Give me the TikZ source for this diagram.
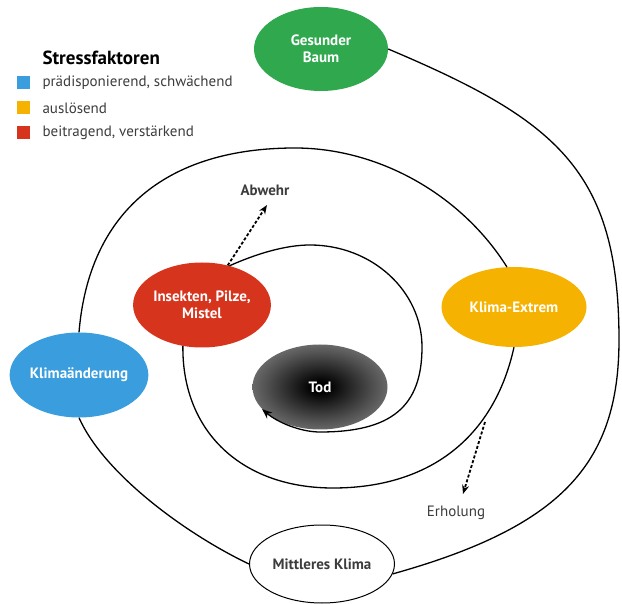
\documentclass[tikz,border=0pt]{standalone}
\usepackage{fontspec}
\setmainfont{PT Sans}
\usetikzlibrary{shapes.geometric,arrows.meta}

\definecolor{baumgruen}{RGB}{48,168,78}
\definecolor{klimablau}{RGB}{58,158,222}
\definecolor{extremgelb}{RGB}{246,178,0}
\definecolor{insektrot}{RGB}{214,52,28}
\definecolor{textgrau}{RGB}{60,60,60}

\pgfdeclareradialshading{todschatten}{\pgfpoint{0bp}{0bp}}{%
  color(0bp)=(black); color(3bp)=(black); color(20bp)=(black!68); color(35bp)=(black!42); color(50bp)=(black!40)}

\begin{document}
\begin{tikzpicture}[x=1pt,y=-1pt,
  oval/.style={ellipse, minimum width=135pt, minimum height=85pt, inner sep=0pt,
    align=center, text=white, font=\bfseries\fontsize{15}{17}\selectfont},
  spirale/.style={line width=1.3pt},
  pfeil/.style={line width=1.8pt, dash pattern=on 3pt off 2pt,
    -{Stealth[length=9pt,width=7pt]}}]
  \useasboundingbox (0,0) rectangle (622,604);

  % --- legend ---
  \node[anchor=west, font=\bfseries\fontsize{19}{21}\selectfont] (titel) at (39,58) {Stressfaktoren};
  \foreach \i/\yy/\farbe/\txt in {1/83/klimablau/{prädisponierend, schwächend},
      2/108/extremgelb/{auslösend}, 3/133/insektrot/{beitragend, verstärkend}} {
    \fill[\farbe] (17,\yy-6.5) rectangle (30,\yy+6.5);
    \node[anchor=west, text=textgrau, font=\fontsize{15}{17}\selectfont] (leg\i) at (39,\yy) {\txt};
  }

  % --- stations ---
  \node[oval, fill=baumgruen, minimum width=134pt, minimum height=84pt] (baum) at (321,49) {Gesunder\\Baum};
  \node[oval, fill=klimablau] (klima) at (79,375) {Klimaänderung};
  \node[oval, fill=insektrot] (insekt) at (202,305) {Insekten, Pilze,\\Mistel};
  \node[oval, fill=extremgelb, minimum width=145pt, minimum height=80pt] (extrem) at (514,307) {Klima-Extrem};
  \node[oval, shading=todschatten] (tod) at (320,387) {Tod};
  \node[oval, draw=black, line width=1pt, text=textgrau, minimum width=145pt,
    minimum height=78pt] (mittel) at (322,564) {Mittleres Klima};

  % --- side labels ---
  \node[text=textgrau, font=\bfseries\fontsize{15}{17}\selectfont] (abwehr) at (265,190) {Abwehr};
  \node[text=textgrau, font=\fontsize{15}{17}\selectfont] (erholung) at (456,513) {Erholung};

  % --- spiral, outside in ---
  \draw[spirale] (baum.east) .. controls (556,120) and (619,170) .. (619,340)
    .. controls (619,465) and (560,527) .. (mittel.-8);
  \draw[spirale] (mittel.west) .. controls (186,534) and (104,474) .. (klima.south);
  \draw[spirale] (klima.north) .. controls (89,212) and (166,148) .. (295,148)
    .. controls (378,148) and (461,194) .. (extrem.100);
  \draw[spirale] (extrem.south) .. controls (494,438) and (429,488) .. (333,488)
    .. controls (242,488) and (182,432) .. (insekt.-115);
  \draw[spirale, -{Stealth[length=10pt,width=8pt]}] (insekt.55)
    .. controls (256,254) and (285,245) .. (310,245)
    .. controls (372,245) and (422,291) .. (422,347)
    .. controls (422,407) and (391,432) .. (320,432)
    .. controls (300,432) and (277,422) .. (tod.201);

  % --- way out ---
  \coordinate (abwehr-ziel) at (267,205);
  \coordinate (erh-start) at (485,422);
  \coordinate (erh-ziel) at (463,494);
  \draw[pfeil] (insekt.57) -- (abwehr-ziel);
  \draw[pfeil] (erh-start) -- (erh-ziel);
\end{tikzpicture}
\end{document}
